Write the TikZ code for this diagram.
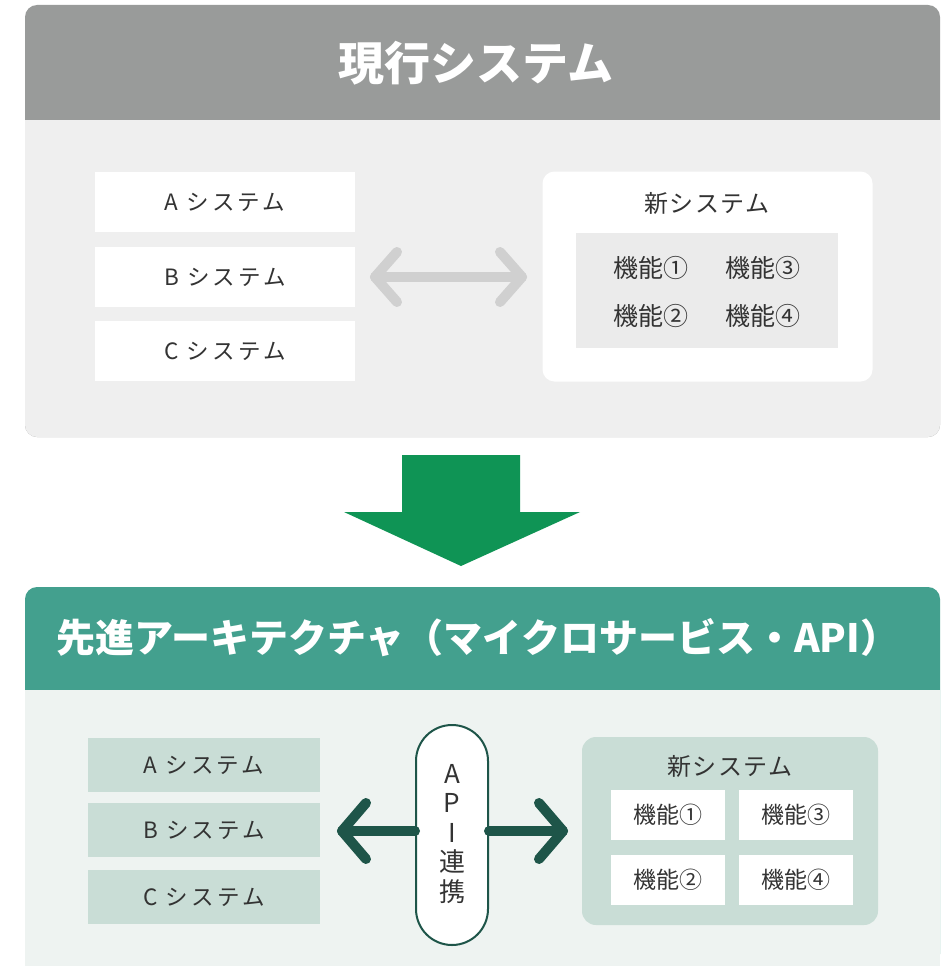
\documentclass[tikz,border=0pt]{standalone}
\usepackage{fontspec}
\newfontfamily\jp{Noto Sans CJK JP}
\newfontfamily\jpsp[LetterSpace=14]{Noto Sans CJK JP}
\newfontfamily\jpnt[LetterSpace=6]{Noto Sans CJK JP}
\usetikzlibrary{calc}
\definecolor{hdrgray}{HTML}{999B9A}
\definecolor{bodygray}{HTML}{EFEFEF}
\definecolor{arrgray}{HTML}{D0D0D0}
\definecolor{innergray}{HTML}{EBEBEB}
\definecolor{bigarrow}{HTML}{0F9455}
\definecolor{hdrteal}{HTML}{43A08E}
\definecolor{bodyteal}{HTML}{EEF3F1}
\definecolor{boxteal}{HTML}{C9DDD6}
\definecolor{darkteal}{HTML}{1E5549}
\definecolor{txt}{HTML}{333333}
\tikzset{
  sysbox/.style={minimum width=260pt, minimum height=60pt, inner sep=0pt, font=\jpsp\fontsize{22.5}{26}\selectfont, text=txt},
  funcwhite/.style={fill=white, minimum width=114pt, minimum height=50pt, inner sep=0pt, font=\jp\fontsize{23}{26}\selectfont, text=txt},
  functext/.style={inner sep=0pt, font=\jp\fontsize{25}{28}\selectfont, text=txt},
  newtitle/.style={inner sep=0pt, font=\jpnt\fontsize{24}{26}\selectfont, text=txt},
  titletext/.style={text=white, inner sep=0pt},
  grayarrow/.style={draw=arrgray, line width=10pt, line cap=round, line join=round},
  tealarrow/.style={draw=darkteal, line width=10pt, line cap=round, line join=round},
}
\begin{document}
\begin{tikzpicture}[x=1pt,y=-1pt]
\useasboundingbox (0,0) rectangle (945,966);
\fill[white] (0,0) rectangle (945,966);
% ---------- top panel ----------
\fill[hdrgray, rounded corners=12pt] (25,5) rectangle (940,437);
\fill[bodygray, rounded corners=12pt] (25,120) rectangle (940,437);
\fill[bodygray] (25,120) rectangle (940,140);
\node[titletext, font=\jp\bfseries\fontsize{46}{50}\selectfont] (t1) at (476,63) {現行システム};

\node[sysbox, fill=white] (a1) at (225,202) {A システム};
\node[sysbox, fill=white] (b1) at (225,277) {B システム};
\node[sysbox, fill=white] (c1) at (225,351) {C システム};

\node[fill=white, rounded corners=12pt, minimum width=330pt, minimum height=210pt, inner sep=0pt] (n1) at (707.5,276.5) {};
\node[newtitle] (n1t) at (707,203) {新システム};
\node[fill=innergray, minimum width=262pt, minimum height=115pt, inner sep=0pt] (in1) at (707,290.5) {};
\node[functext] (f11) at (651,268) {機能①};
\node[functext] (f13) at (763,268) {機能③};
\node[functext] (f12) at (651,316) {機能②};
\node[functext] (f14) at (763,316) {機能④};

\coordinate (gl) at (375,277);
\coordinate (gr) at (522,277);
\draw[grayarrow] (gl) -- (gr);
\draw[grayarrow] ($(gl)+(22,-25)$) -- (gl) -- ($(gl)+(22,25)$);
\draw[grayarrow] ($(gr)+(-22,-25)$) -- (gr) -- ($(gr)+(-22,25)$);

% ---------- big green arrow ----------
\fill[bigarrow] (402,455) -- (520,455) -- (520,512) -- (580,512) -- (461,566) -- (344,512) -- (402,512) -- cycle;

% ---------- bottom panel ----------
\fill[hdrteal, rounded corners=12pt] (25,587) rectangle (940,966);
\fill[bodyteal] (25,690) rectangle (940,966);
\node[titletext, font=\jp\bfseries\fontsize{39}{44}\selectfont] (t2) at (478,638) {先進アーキテクチャ（マイクロサービス・API）};

\node[sysbox, fill=boxteal, minimum width=232pt, minimum height=54pt] (a2) at (204,765) {A システム};
\node[sysbox, fill=boxteal, minimum width=232pt, minimum height=54pt] (b2) at (204,830) {B システム};
\node[sysbox, fill=boxteal, minimum width=232pt, minimum height=54pt] (c2) at (204,897) {C システム};

\node[fill=boxteal, rounded corners=14pt, minimum width=296pt, minimum height=188pt, inner sep=0pt] (n2) at (730,831) {};
\node[newtitle] (n2t) at (730,766) {新システム};
\node[funcwhite] (f21) at (668,815) {機能①};
\node[funcwhite] (f23) at (796,815) {機能③};
\node[funcwhite] (f22) at (668,880) {機能②};
\node[funcwhite] (f24) at (796,880) {機能④};

\node[draw=darkteal, line width=2pt, fill=white, rounded corners=36pt, minimum width=72pt, minimum height=220pt, inner sep=0pt] (pill) at (452,835) {};
\node[functext, align=center, font=\jp\fontsize{26}{29.5}\selectfont] (pt) at (452,834) {A\\P\\I\\連\\携};

\coordinate (tl) at (342,831);
\coordinate (tr) at (563,831);
\draw[tealarrow] (pill.west |- tl) -- (tl);
\draw[tealarrow] ($(tl)+(24,-28)$) -- (tl) -- ($(tl)+(24,28)$);
\draw[tealarrow] (pill.east |- tr) -- (tr);
\draw[tealarrow] ($(tr)+(-24,-28)$) -- (tr) -- ($(tr)+(-24,28)$);
\end{tikzpicture}
\end{document}
